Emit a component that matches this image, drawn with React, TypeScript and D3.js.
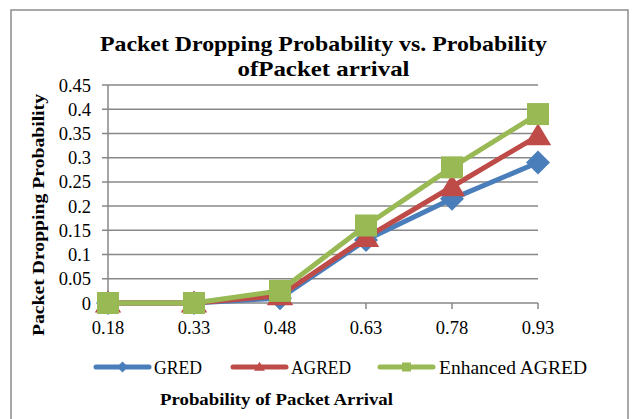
import React from "react";
import * as d3 from "d3";

const categories = ["0.18", "0.33", "0.48", "0.63", "0.78", "0.93"];
const gred = [0, 0, 0.01, 0.13, 0.215, 0.29];
const agred = [0, 0, 0.015, 0.135, 0.24, 0.345];
const enhanced = [0, 0, 0.025, 0.16, 0.28, 0.39];
const yTicks = [0, 0.05, 0.1, 0.15, 0.2, 0.25, 0.3, 0.35, 0.4, 0.45];

const W = 635;
const H = 419;
const FONT = "'Liberation Serif', 'Times New Roman', serif";

const series = [
  { name: "GRED", values: gred, color: "#4a7ebb", marker: "diamond" },
  { name: "AGRED", values: agred, color: "#be4b48", marker: "triangle" },
  { name: "Enhanced AGRED", values: enhanced, color: "#98b954", marker: "square" },
];

function Marker({ type, x, y, color, size }: { type: string; x: number; y: number; color: string; size: number }) {
  if (type === "square") {
    return <rect x={x - size / 2} y={y - size / 2} width={size} height={size} fill={color} />;
  }
  if (type === "triangle") {
    const h = size * 0.95;
    return (
      <polygon
        points={`${x},${y - h * 0.6} ${x + size * 0.6},${y + h * 0.45} ${x - size * 0.6},${y + h * 0.45}`}
        fill={color}
      />
    );
  }
  const r = size / 2 + 1;
  return <polygon points={`${x},${y - r} ${x + r},${y} ${x},${y + r} ${x - r},${y}`} fill={color} />;
}

export default function App() {
  const x = d3.scalePoint<string>().domain(categories).range([108, 538]);
  const y = d3.scaleLinear().domain([0, 0.45]).range([303, 85]);
  const line = d3
    .line<number>()
    .x((_, i) => x(categories[i]) as number)
    .y((d) => y(d));

  const legendItems = [
    { x0: 96, tx: 154, w: 48 },
    { x0: 233, tx: 291, w: 60 },
    { x0: 380, tx: 439, w: 148 },
  ];

  return (
    <svg width={W} height={H} style={{ position: "absolute", left: 0, top: 0 }} fontFamily={FONT}>
      <rect x={0} y={0} width={W} height={H} fill="#fff" />
      <rect x={11} y={10} width={617} height={420} fill="#fff" stroke="#8c8c8c" strokeWidth={1.5} />

      <text x={323.5} y={51} textAnchor="middle" fontSize={21} fontWeight="bold" textLength={447} lengthAdjust="spacingAndGlyphs">
        Packet Dropping Probability vs. Probability
      </text>
      <text x={323.5} y={76} textAnchor="middle" fontSize={21} fontWeight="bold" textLength={172} lengthAdjust="spacingAndGlyphs">
        ofPacket arrival
      </text>

      {yTicks.map((t) => (
        <g key={t}>
          <line x1={102} x2={538} y1={y(t)} y2={y(t)} stroke="#878787" strokeWidth={1.5} />
          <text x={91} y={y(t) + 6.5} textAnchor="end" fontSize={18.5}>
            {d3.format("")(t)}
          </text>
        </g>
      ))}
      <line x1={108} x2={108} y1={85} y2={303} stroke="#878787" strokeWidth={1.5} />
      {categories.map((c) => (
        <g key={c}>
          <line x1={x(c)} x2={x(c)} y1={303} y2={309} stroke="#878787" strokeWidth={1.5} />
          <text x={x(c)} y={334} textAnchor="middle" fontSize={18.5}>
            {c}
          </text>
        </g>
      ))}

      {series.map((s) => (
        <g key={s.name}>
          <path d={line(s.values) || ""} fill="none" stroke={s.color} strokeWidth={5} strokeLinejoin="round" />
          {s.values.map((v, i) => (
            <Marker key={i} type={s.marker} x={x(categories[i]) as number} y={y(v)} color={s.color} size={22} />
          ))}
        </g>
      ))}

      <text
        transform="translate(44,215) rotate(-90)"
        textAnchor="middle"
        fontSize={17.5}
        fontWeight="bold"
        textLength={242}
        lengthAdjust="spacingAndGlyphs"
      >
        Packet Dropping Probability
      </text>

      {series.map((s, i) => (
        <g key={s.name}>
          <line x1={legendItems[i].x0} x2={legendItems[i].x0 + 53} y1={367} y2={367} stroke={s.color} strokeWidth={5} strokeLinecap="round" />
          <Marker type={s.marker} x={legendItems[i].x0 + 26.5} y={367} color={s.color} size={9} />
          <text x={legendItems[i].tx} y={373.5} fontSize={18.5} textLength={legendItems[i].w} lengthAdjust="spacingAndGlyphs">
            {s.name}
          </text>
        </g>
      ))}

      <text x={160} y={405} fontSize={17.5} fontWeight="bold" textLength={233} lengthAdjust="spacingAndGlyphs">
        Probability of Packet Arrival
      </text>
    </svg>
  );
}
